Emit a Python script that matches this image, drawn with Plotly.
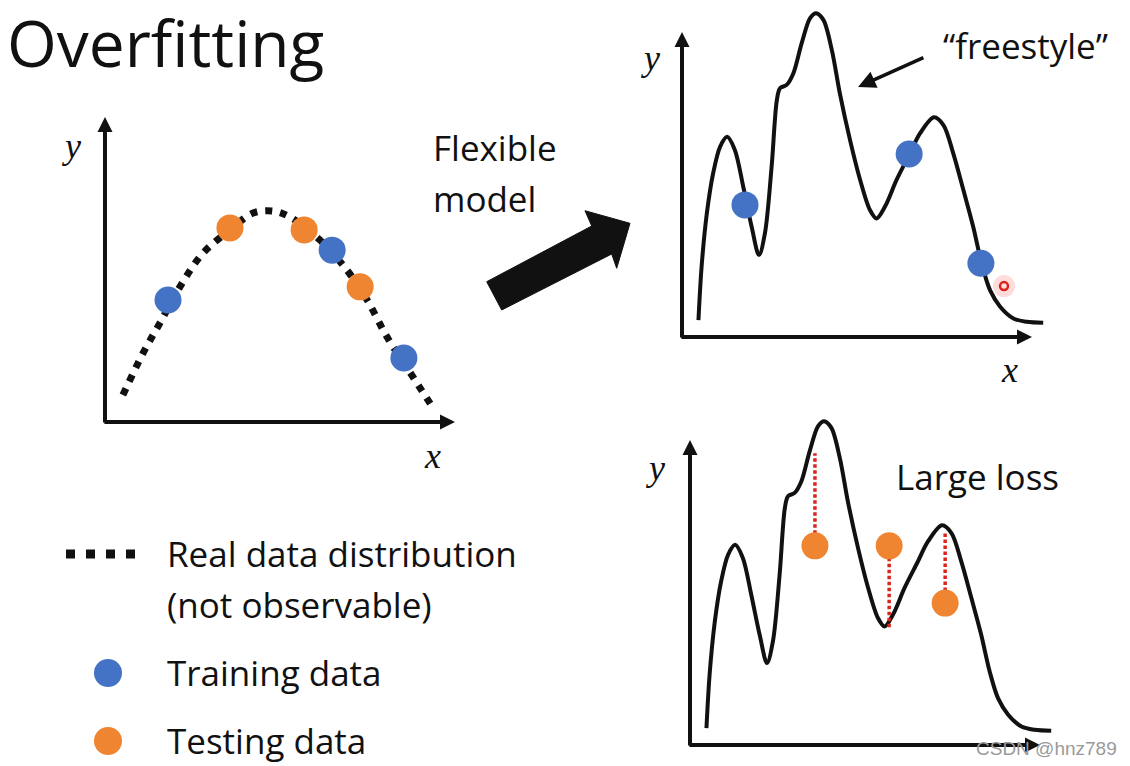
import plotly.graph_objects as go

W, H = 1130, 766
SX, SY = 35.0, 33.7  # px per data unit (layout scale)

# ---------------- data ----------------
# Real data distribution (dotted curve, left panel)
real_x = [0.51, 1.09, 1.57, 2.14, 2.80, 3.57, 4.23, 4.80, 5.29, 6.14, 6.91, 7.49, 8.06, 8.71, 9.37]
real_y = [0.80, 2.05, 2.94, 4.01, 5.01, 5.70, 6.20, 6.26, 6.08, 5.40, 4.51, 3.62, 2.52, 1.48, 0.42]

train_x = [1.80, 6.49, 8.54]
train_y_left = [3.62, 5.10, 1.90]
test_x = [3.57, 5.69, 7.29]
test_y_left = [5.76, 5.70, 4.01]

# Flexible ("freestyle") model curve
flex_x = [0.47, 0.56, 0.71, 0.89, 1.09, 1.29, 1.51, 1.75, 1.99, 2.20, 2.37, 2.56, 2.71, 2.80,
          2.99, 3.18, 3.42, 3.66, 3.83, 4.04, 4.28, 4.51, 4.80, 5.09, 5.37, 5.56, 5.80, 6.13,
          6.49, 6.80, 7.20, 7.47, 7.75, 8.04, 8.32, 8.56, 8.80, 9.09, 9.47, 9.85, 10.32]
flex_y = [0.50, 2.09, 3.67, 4.86, 5.65, 5.94, 5.55, 4.46, 3.27, 2.43, 3.08, 5.05, 7.03, 7.38,
          7.48, 7.82, 8.72, 9.46, 9.61, 9.41, 8.52, 7.23, 5.85, 4.66, 3.77, 3.52, 3.87, 4.66,
          5.40, 6.04, 6.52, 6.29, 5.45, 4.36, 3.27, 2.19, 1.39, 0.90, 0.55, 0.45, 0.42]

train_y_flex = [3.92, 5.43, 2.19]
test_y_flex = [5.91, 5.91, 4.21]
pred_y_flex = [8.66, 3.47, 6.33]   # ends of the red loss segments

cursor_x, cursor_y = [9.20], [1.51]

axis_len_x, axis_len_y = 10.0, 9.05

BLUE = "#4472C4"
ORANGE = "#EF8530"
RED = "#D8241C"
INK = "#111111"
FONT = "Open Sans"

# ---------------- layout helpers ----------------
def px(xp):
    return xp / W

def py(yp):
    return 1 - yp / H

panels = {
    "A": dict(ox=105, oy=422, xr=(-0.5, 10.5), yr=(-0.5, 9.5)),
    "B": dict(ox=682, oy=337, xr=(-0.5, 10.8), yr=(-0.5, 10.0)),
    "C": dict(ox=690, oy=745, xr=(-0.5, 10.8), yr=(-0.5, 10.0)),
}

fig = go.Figure()
layout_axes = {}
for i, key in enumerate(["A", "B", "C"], start=1):
    p = panels[key]
    xd = [px(p["ox"] + p["xr"][0] * SX), px(p["ox"] + p["xr"][1] * SX)]
    yd = [py(p["oy"] - p["yr"][0] * SY), py(p["oy"] - p["yr"][1] * SY)]
    sfx = "" if i == 1 else str(i)
    layout_axes["xaxis" + sfx] = dict(domain=xd, range=list(p["xr"]), visible=False,
                                      anchor="y" + sfx, fixedrange=True)
    layout_axes["yaxis" + sfx] = dict(domain=yd, range=list(p["yr"]), visible=False,
                                      anchor="x" + sfx, fixedrange=True)

# ---------------- traces ----------------
# Left panel
fig.add_trace(go.Scatter(x=real_x, y=real_y, mode="lines", xaxis="x", yaxis="y",
                         line=dict(color=INK, width=7, dash="7px,8px", shape="spline", smoothing=1.0),
                         hoverinfo="skip", showlegend=False))
fig.add_trace(go.Scatter(x=train_x, y=train_y_left, mode="markers", xaxis="x", yaxis="y",
                         marker=dict(color=BLUE, size=27, line=dict(width=0)), showlegend=False))
fig.add_trace(go.Scatter(x=test_x, y=test_y_left, mode="markers", xaxis="x", yaxis="y",
                         marker=dict(color=ORANGE, size=27, line=dict(width=0)), showlegend=False))

# Top-right panel
fig.add_trace(go.Scatter(x=flex_x, y=flex_y, mode="lines", xaxis="x2", yaxis="y2",
                         line=dict(color=INK, width=4, shape="spline", smoothing=0.9),
                         hoverinfo="skip", showlegend=False))
fig.add_trace(go.Scatter(x=train_x, y=train_y_flex, mode="markers", xaxis="x2", yaxis="y2",
                         marker=dict(color=BLUE, size=27, line=dict(width=0)), showlegend=False))
fig.add_trace(go.Scatter(x=cursor_x, y=cursor_y, mode="markers", xaxis="x2", yaxis="y2",
                         marker=dict(color="rgba(255,60,60,0.18)", size=22, line=dict(width=0)),
                         hoverinfo="skip", showlegend=False))
fig.add_trace(go.Scatter(x=cursor_x, y=cursor_y, mode="markers", xaxis="x2", yaxis="y2",
                         marker=dict(symbol="circle-open", color=RED, size=8, line=dict(width=2.5, color=RED)),
                         hoverinfo="skip", showlegend=False))

# Bottom-right panel
fig.add_trace(go.Scatter(x=flex_x, y=flex_y, mode="lines", xaxis="x3", yaxis="y3",
                         line=dict(color=INK, width=4, shape="spline", smoothing=0.9),
                         hoverinfo="skip", showlegend=False))
for xv, y0, y1 in zip(test_x, test_y_flex, pred_y_flex):
    fig.add_trace(go.Scatter(x=[xv, xv], y=[y0, y1], mode="lines", xaxis="x3", yaxis="y3",
                             line=dict(color=RED, width=3.5, dash="3.5px,2.5px"),
                             hoverinfo="skip", showlegend=False))
fig.add_trace(go.Scatter(x=test_x, y=test_y_flex, mode="markers", xaxis="x3", yaxis="y3",
                         marker=dict(color=ORANGE, size=27, line=dict(width=0)), showlegend=False))

# ---------------- axis arrows ----------------
annotations = []
for sfx in ["", "2", "3"]:
    xr, yr = "x" + sfx, "y" + sfx
    annotations.append(dict(x=axis_len_x, y=0, ax=-0.06, ay=0, xref=xr, yref=yr, axref=xr, ayref=yr,
                            text="", showarrow=True, arrowhead=2, arrowsize=0.75, arrowwidth=4,
                            arrowcolor=INK, standoff=0, startstandoff=0))
    annotations.append(dict(x=0, y=axis_len_y, ax=0, ay=-0.06, xref=xr, yref=yr, axref=xr, ayref=yr,
                            text="", showarrow=True, arrowhead=2, arrowsize=0.75, arrowwidth=4,
                            arrowcolor=INK, standoff=0, startstandoff=0))

# "freestyle" pointer arrow (panel B coordinates)
annotations.append(dict(x=5.03, y=7.42, ax=6.94, ay=8.31, xref="x2", yref="y2", axref="x2", ayref="y2",
                        text="", showarrow=True, arrowhead=2, arrowsize=1.0, arrowwidth=3.5,
                        arrowcolor=INK, standoff=0))

def label(text, xp, yp, size, xanchor="center", family=FONT, color=INK):
    annotations.append(dict(text=text, x=px(xp), y=py(yp), xref="paper", yref="paper",
                            xanchor=xanchor, yanchor="middle", showarrow=False,
                            font=dict(family=family, size=size, color=color)))

SERIF = "Liberation Serif"
BODY = 35
label("Overfitting", 5, 42, 64, xanchor="left")
label("Flexible", 431, 148, BODY, xanchor="left")
label("model", 431, 198, BODY, xanchor="left")
label("\u201cfreestyle\u201d", 1025, 46, BODY)
label("Large loss", 977, 476, BODY)
label("<i>y</i>", 71, 146, 36, family=SERIF)
label("<i>x</i>", 432, 456, 36, family=SERIF)
label("<i>y</i>", 650, 58, 36, family=SERIF)
label("<i>x</i>", 1010, 370, 36, family=SERIF)
label("<i>y</i>", 655, 468, 36, family=SERIF)
label("Real data distribution", 165, 553, BODY, xanchor="left")
label("(not observable)", 165, 604, BODY, xanchor="left")
label("Training data", 165, 672, BODY, xanchor="left")
label("Testing data", 165, 740, BODY, xanchor="left")
label("CSDN @hnz789", 1046, 748, 19, family="Liberation Sans", color="#9a9a9a")

# ---------------- shapes (decorations / legend symbols) ----------------
arrow_pts = [(486.7, 281.7), (591.7, 226.0), (585.0, 210.7), (630.0, 223.3),
             (616.7, 268.3), (611.7, 254.0), (501.7, 310.0)]
path = "M " + " L ".join(f"{px(a):.5f},{py(b):.5f}" for a, b in arrow_pts) + " Z"
shapes = [
    dict(type="path", path=path, xref="paper", yref="paper", fillcolor=INK,
         line=dict(color=INK, width=1)),
    dict(type="line", xref="paper", yref="paper", x0=px(66), x1=px(137), y0=py(554), y1=py(554),
         line=dict(color=INK, width=9, dash="9px,11px")),
    dict(type="circle", xref="paper", yref="paper", x0=px(94), x1=px(122), y0=py(659), y1=py(687),
         fillcolor=BLUE, line=dict(width=0)),
    dict(type="circle", xref="paper", yref="paper", x0=px(94), x1=px(122), y0=py(727), y1=py(755),
         fillcolor=ORANGE, line=dict(width=0)),
]

fig.update_layout(
    width=W, height=H, margin=dict(l=0, r=0, t=0, b=0),
    paper_bgcolor="white", plot_bgcolor="rgba(0,0,0,0)",
    showlegend=False, annotations=annotations, shapes=shapes,
    **layout_axes,
)

fig.write_html("out.html", config={"displayModeBar": False},
               post_script="document.body.style.margin='0';document.body.style.overflow='hidden';")
